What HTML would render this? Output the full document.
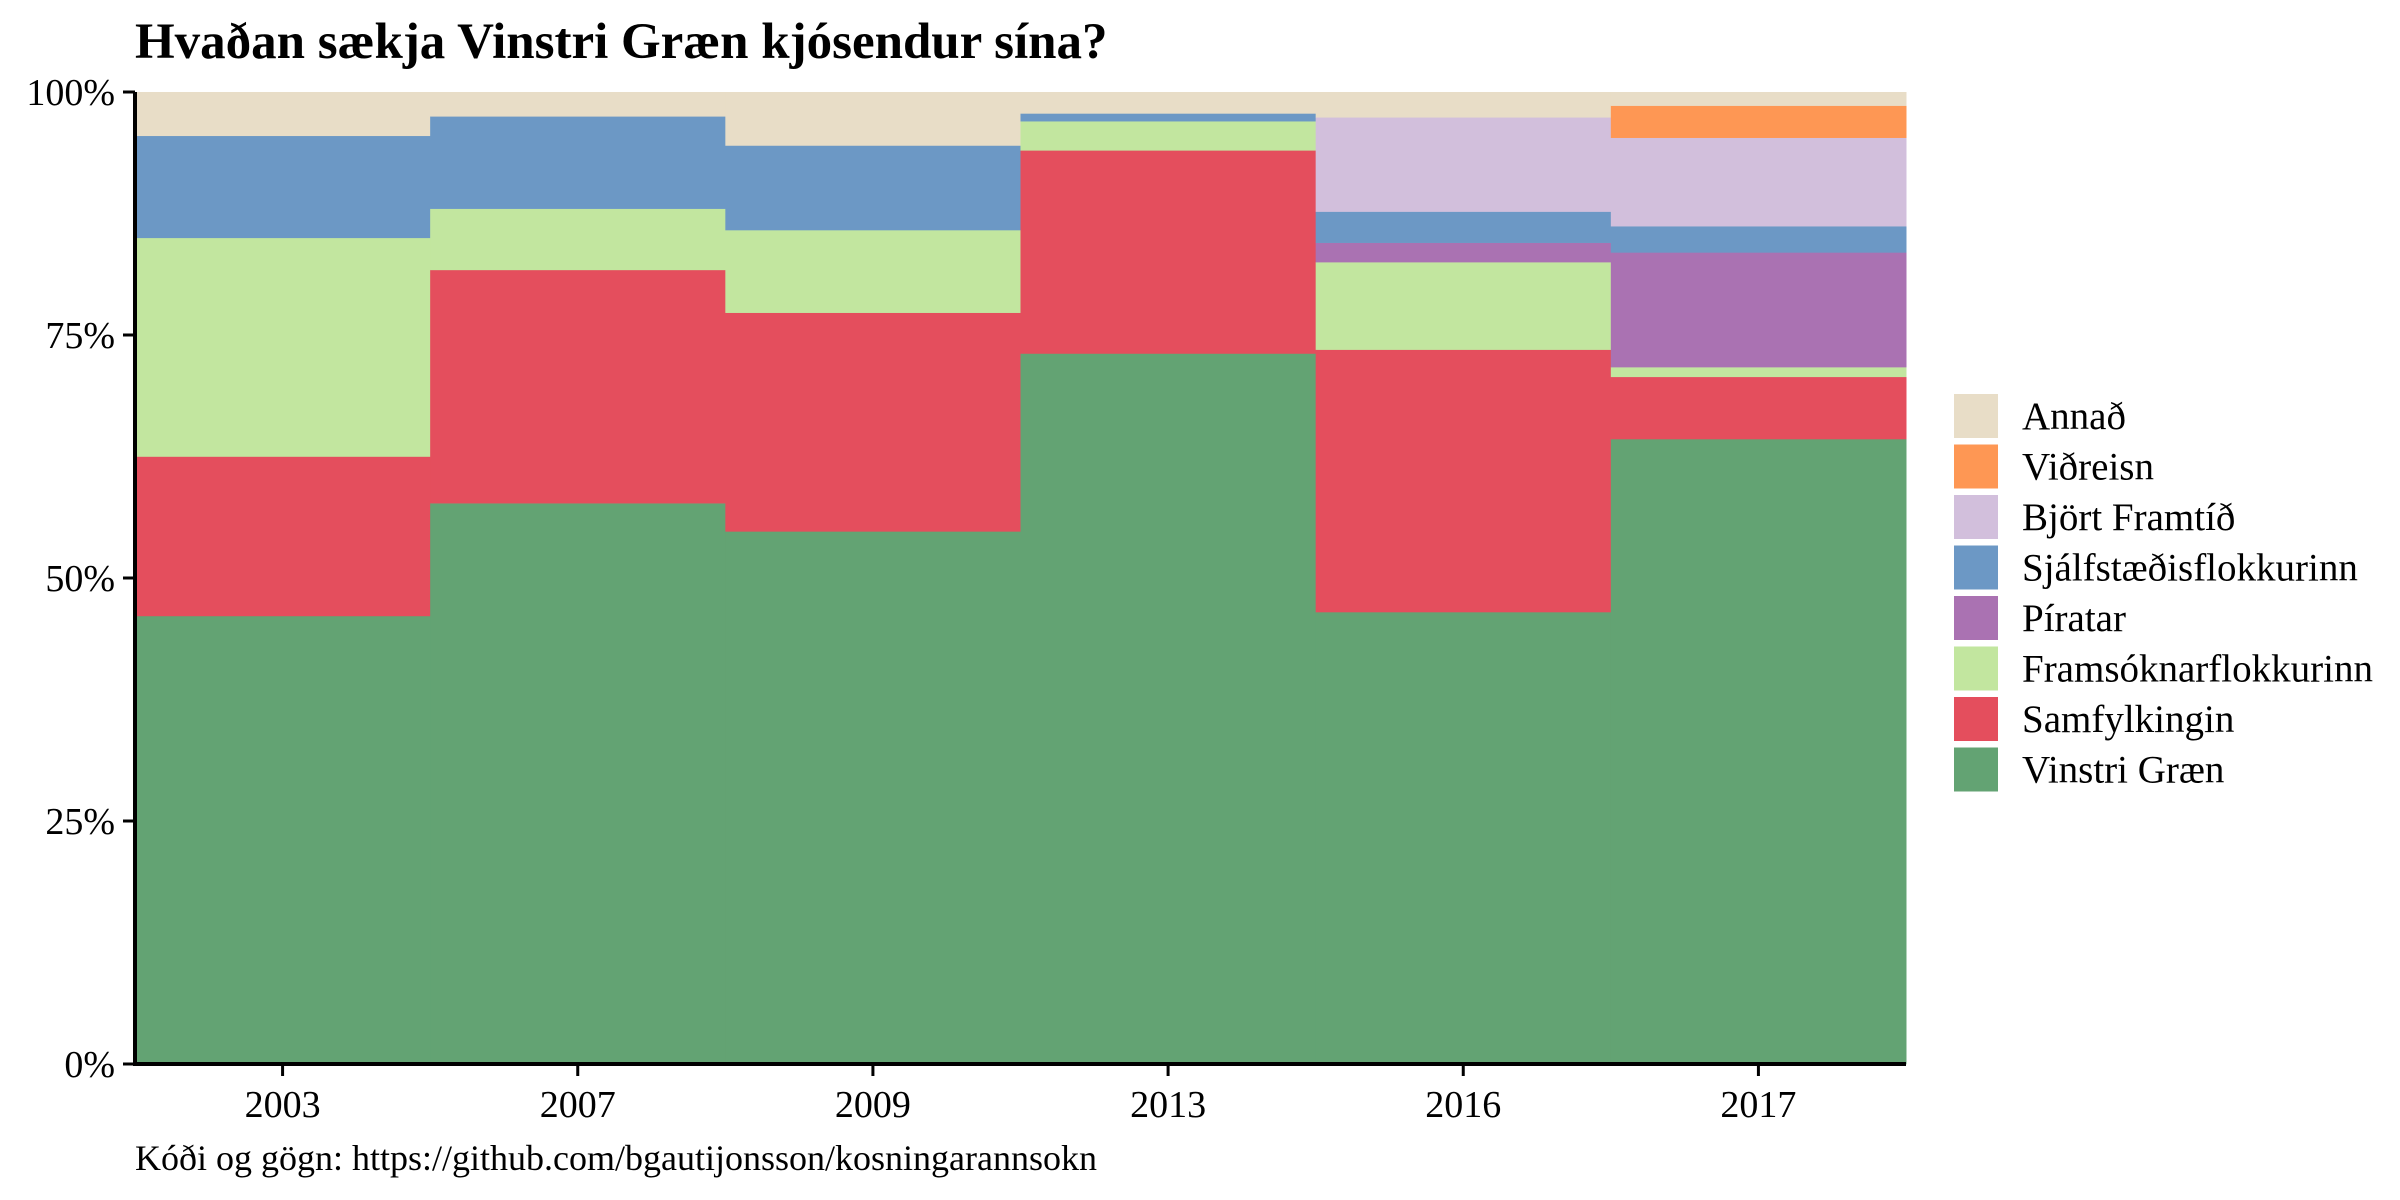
<!DOCTYPE html>
<html><head><meta charset="utf-8"><style>
html,body{margin:0;padding:0;background:#fff}
svg{display:block}
text{font-family:"Liberation Serif",serif;fill:#000}
</style></head><body>
<svg id="chart" width="2400" height="1200" viewBox="0 0 2400 1200" xmlns="http://www.w3.org/2000/svg">
<text x="135" y="58" font-size="51" font-weight="bold">Hvaðan sækja Vinstri Græn kjósendur sína?</text>
<g id="bars"></g>
<g id="axes"></g>
<g id="legend"></g>
<text x="135" y="1170" font-size="36">Kóði og gögn: https://github.com/bgautijonsson/kosningarannsokn</text>
</svg>
<script>
const years = ["2003","2007","2009","2013","2016","2017"];
const parties = ["Vinstri Græn","Samfylkingin","Framsóknarflokkurinn","Píratar","Sjálfstæðisflokkurinn","Björt Framtíð","Viðreisn","Annað"];
const colors = ["#63a373","#e44e5d","#c2e69f","#aa72b2","#6c98c5","#d2bfdc","#fe9754","#e8ddc7"];
const vinstriGraen = [46.1,57.7,54.8,73.1,46.5,64.3];
const samfylkingin = [16.4,24.0,22.5,20.9,27.0,6.4];
const framsokn = [22.5,6.3,8.5,3.0,9.0,1.0];
const piratar = [0,0,0,0,2.0,11.8];
const sjalfstaedis = [10.5,9.5,8.7,0.8,3.2,2.7];
const bjortFramtid = [0,0,0,0,9.7,9.1];
const vidreisn = [0,0,0,0,0,3.3];
const annad = [4.5,2.5,5.5,2.2,2.6,1.4];
const yTicks = [0,25,50,75,100];
const yTickLabels = ["0%","25%","50%","75%","100%"];

const series = [vinstriGraen,samfylkingin,framsokn,piratar,sjalfstaedis,bjortFramtid,vidreisn,annad];
const L=135,R=1906,T=92,B=1064;
const NS="http://www.w3.org/2000/svg";
const bw=(R-L)/years.length;
const xs=i=>L+i*bw;
const ys=v=>B-(v/100)*(B-T);
function mk(tag,attrs,parent){const e=document.createElementNS(NS,tag);for(const k in attrs)e.setAttribute(k,attrs[k]);parent.appendChild(e);return e;}
const bars=document.getElementById('bars');
years.forEach((y,i)=>{
  let tot=0;series.forEach(s=>tot+=s[i]);
  let cum=0;
  series.forEach((s,j)=>{
    const v=s[i]/tot*100;
    if(v<=0)return;
    const r=mk('rect',{x:xs(i),y:ys(cum+v),width:bw+0.5,height:ys(cum)-ys(cum+v)+0.3,fill:colors[j]},bars);
    
    
    cum+=v;
  });
});
const axes=document.getElementById('axes');
let a=mk('line',{x1:L,y1:T,x2:L,y2:B+2,stroke:'#000','stroke-width':4},axes);

a=mk('line',{x1:L-2,y1:B,x2:R,y2:B,stroke:'#000','stroke-width':4},axes);

yTicks.forEach((t,i)=>{
  const l=mk('line',{x1:L-12,y1:ys(t),x2:L,y2:ys(t),stroke:'#000','stroke-width':3},axes);
  
  const tx=mk('text',{x:L-20,y:ys(t)+13,'font-size':38,'text-anchor':'end'},axes);
  tx.textContent=yTickLabels[i];
  
});
years.forEach((y,i)=>{
  const cx=xs(i)+bw/2;
  const l=mk('line',{x1:cx,y1:B,x2:cx,y2:B+12,stroke:'#000','stroke-width':3},axes);
  
  const tx=mk('text',{x:cx,y:B+53,'font-size':38,'text-anchor':'middle'},axes);
  tx.textContent=y;
  
});
const leg=document.getElementById('legend');
for(let k=parties.length-1,row=0;k>=0;k--,row++){
  const cy=416+row*50.5;
  const r=mk('rect',{x:1954,y:cy-22,width:44,height:44,fill:colors[k]},leg);
  
  const tx=mk('text',{x:2022,y:cy+13,'font-size':39},leg);
  tx.textContent=parties[k];
  
}
</script>
</body></html>
